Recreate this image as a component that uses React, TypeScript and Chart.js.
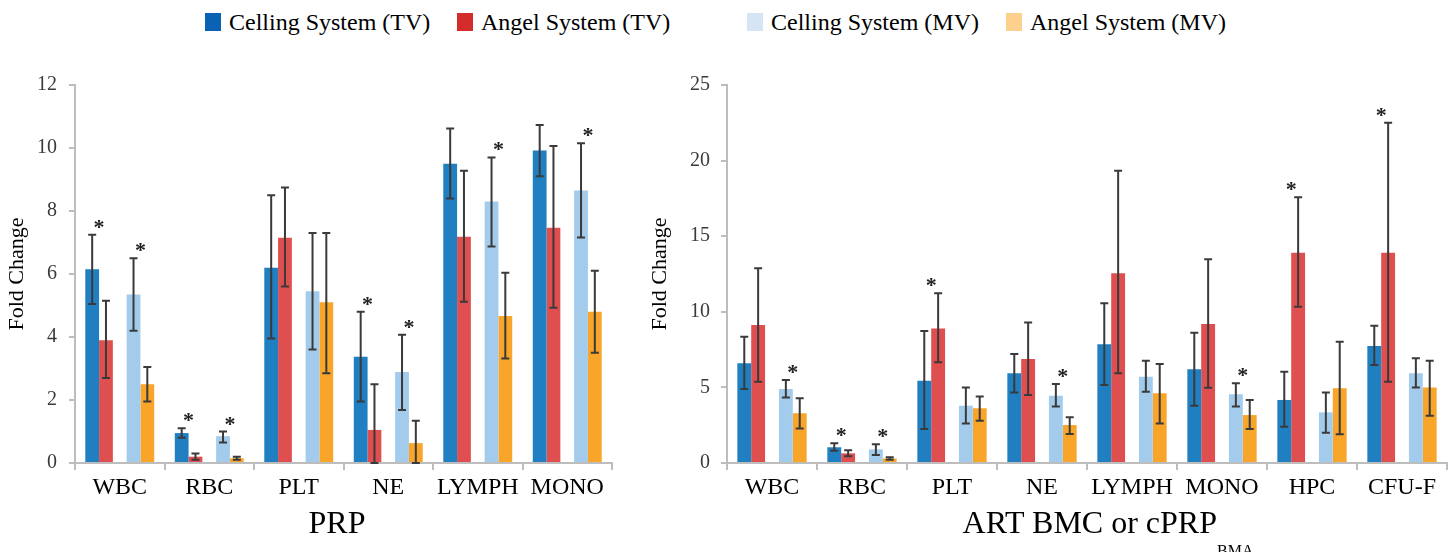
import React, { useEffect, useRef } from "react";
import { Chart, registerables } from "chart.js";
Chart.register(...registerables);

const seriesNames = ["Celling System (TV)", "Angel System (TV)", "Celling System (MV)", "Angel System (MV)"];
const barColors = ["#1f7fc0", "#e04f4f", "#a3cbeb", "#f8a52a"];
const legendColors = ["#0b62b4", "#d42b2b", "#d5e5f6", "#fdd08e"];

// PRP panel
const prpCategories = ["WBC", "RBC", "PLT", "NE", "LYMPH", "MONO"];
const prpCellingTV = [6.15, 0.95, 6.2, 3.37, 9.5, 9.92];
const prpCellingTVLow = [5.05, 0.8, 3.95, 1.95, 8.4, 9.1];
const prpCellingTVHigh = [7.25, 1.1, 8.5, 4.8, 10.62, 10.73];
const prpAngelTV = [3.9, 0.2, 7.15, 1.05, 7.18, 7.47];
const prpAngelTVLow = [2.7, 0.1, 5.6, 0, 5.12, 4.93];
const prpAngelTVHigh = [5.15, 0.3, 8.75, 2.5, 9.28, 10.06];
const prpCellingMV = [5.35, 0.85, 5.45, 2.89, 8.3, 8.65];
const prpCellingMVLow = [4.2, 0.65, 3.6, 1.68, 6.87, 7.16];
const prpCellingMVHigh = [6.5, 1.0, 7.3, 4.07, 9.7, 10.15];
const prpAngelMV = [2.5, 0.15, 5.1, 0.63, 4.67, 4.8];
const prpAngelMVLow = [1.95, 0.1, 2.85, 0, 3.32, 3.5];
const prpAngelMVHigh = [3.05, 0.2, 7.3, 1.34, 6.04, 6.1];
const prpSigTV = [true, true, false, true, false, false];
const prpSigMV = [true, true, false, true, true, true];
const prpTicks = { max: 12, step: 2 };

// ART BMC / cPRP_BMA panel
const artCategories = ["WBC", "RBC", "PLT", "NE", "LYMPH", "MONO", "HPC", "CFU-F"];
const artCellingTV = [6.59, 1.04, 5.44, 5.93, 7.85, 6.2, 4.17, 7.74];
const artCellingTVLow = [4.89, 0.81, 2.25, 4.67, 5.16, 3.79, 2.4, 6.48];
const artCellingTVHigh = [8.35, 1.3, 8.73, 7.21, 10.56, 8.62, 6.04, 9.08];
const artAngelTV = [9.13, 0.64, 8.9, 6.88, 12.55, 9.19, 13.91, 13.91];
const artAngelTVLow = [5.38, 0.45, 6.66, 4.5, 5.93, 4.98, 10.34, 5.38];
const artAngelTVHigh = [12.88, 0.85, 11.22, 9.3, 19.33, 13.47, 17.57, 22.51];
const artCellingMV = [4.89, 0.9, 3.79, 4.45, 5.71, 4.54, 3.35, 5.93];
const artCellingMVLow = [4.34, 0.53, 2.62, 3.73, 4.72, 3.73, 2.0, 5.0];
const artCellingMVHigh = [5.49, 1.24, 5.0, 5.22, 6.77, 5.27, 4.67, 6.92];
const artAngelMV = [3.29, 0.3, 3.62, 2.51, 4.61, 3.17, 4.94, 5.0];
const artAngelMVLow = [2.29, 0.22, 2.8, 1.92, 2.62, 2.25, 1.9, 3.13];
const artAngelMVHigh = [4.28, 0.38, 4.39, 3.02, 6.55, 4.17, 8.02, 6.77];
const artSigTV = [false, true, true, false, false, false, true, true];
const artSigMV = [true, true, false, true, false, true, false, false];
const artTicks = { max: 25, step: 5 };

const SERIF = "'Liberation Serif', 'Times New Roman', serif";
const AXIS_GRAY = "#bdbdbd";

const errorBarPlugin = {
  id: "errorBars",
  afterDatasetsDraw(chart: any) {
    const ctx = chart.ctx;
    const yScale = chart.scales.y;
    const area = chart.chartArea;
    ctx.save();
    ctx.strokeStyle = "#3a3a3a";
    ctx.lineWidth = 2;
    const ds = chart.data.datasets;
    ds.forEach((d: any, i: number) => {
      if (!d.errLow) return;
      const meta = chart.getDatasetMeta(i);
      meta.data.forEach((el: any, j: number) => {
        const hi = d.errHigh[j];
        const lo = d.errLow[j];
        if (hi == null) return;
        const x = el.x;
        const yh = yScale.getPixelForValue(hi);
        const yl = Math.min(yScale.getPixelForValue(lo), area.bottom);
        const cap = 4;
        ctx.beginPath();
        ctx.moveTo(x, yh);
        ctx.lineTo(x, yl);
        ctx.moveTo(x - cap, yh);
        ctx.lineTo(x + cap, yh);
        ctx.moveTo(x - cap, yl);
        ctx.lineTo(x + cap, yl);
        ctx.stroke();
      });
    });
    // significance asterisks, over the boundary of a pair of bars
    ctx.fillStyle = "#222";
    ctx.font = `bold 22px ${SERIF}`;
    ctx.textAlign = "center";
    ctx.textBaseline = "alphabetic";
    ds.forEach((d: any, i: number) => {
      if (!d.sig) return;
      const metaA = chart.getDatasetMeta(i);
      const metaB = chart.getDatasetMeta(i + 1);
      const other = ds[i + 1];
      d.sig.forEach((s: boolean, j: number) => {
        if (!s) return;
        const a = metaA.data[j];
        const x = a.x + a.width / 2;
        const top = Math.min(yScale.getPixelForValue(d.errHigh[j]), yScale.getPixelForValue(other.errHigh[j]));
        const cy = top - 13;
        ctx.fillText("*", x, cy + 12);
      });
    });
    ctx.restore();
  },
};

function buildDatasets(v: number[][], lo: number[][], hi: number[][], sigTV: boolean[], sigMV: boolean[]) {
  const mk = (k: number, extra: any = {}) => ({
    label: seriesNames[k],
    data: v[k],
    errLow: lo[k],
    errHigh: hi[k],
    backgroundColor: barColors[k],
    borderWidth: 0,
    ...extra,
  });
  return [
    mk(0, { sig: sigTV }),
    mk(1),
    { label: "", data: v[0].map(() => null), backgroundColor: "rgba(0,0,0,0)" },
    mk(2, { sig: sigMV }),
    mk(3),
  ];
}

function makeConfig(
  labels: string[],
  datasets: any[],
  ticks: { max: number; step: number },
  yWidth: number,
  padRight: number,
  titlePad: number,
  tickPad: number
) {
  return {
    type: "bar",
    data: { labels, datasets },
    plugins: [errorBarPlugin],
    options: {
      responsive: false,
      animation: false,
      layout: { padding: { left: 0, right: padRight, top: 45, bottom: 0 } },
      datasets: { bar: { categoryPercentage: 0.77, barPercentage: 1 } },
      plugins: { legend: { display: false }, tooltip: { enabled: false } },
      scales: {
        x: {
          grid: { drawOnChartArea: false, offset: true, color: AXIS_GRAY, lineWidth: 2, tickLength: 7 },
          border: { color: AXIS_GRAY, width: 2 },
          ticks: { font: { family: SERIF, size: 24 }, color: "#000", padding: 3, maxRotation: 0, autoSkip: false },
          afterFit: (s: any) => {
            s.height = 89;
          },
        },
        y: {
          min: 0,
          max: ticks.max,
          grid: { drawOnChartArea: false, color: AXIS_GRAY, lineWidth: 2, tickLength: 6 },
          border: { color: AXIS_GRAY, width: 2 },
          ticks: { stepSize: ticks.step, font: { family: SERIF, size: 20 }, color: "#3a3a3a", padding: tickPad },
          title: {
            display: true,
            text: "Fold Change",
            font: { family: SERIF, size: 22 },
            color: "#000",
            padding: { top: titlePad, bottom: 0 },
          },
          afterFit: (s: any) => {
            s.width = yWidth;
          },
        },
      },
    },
  };
}

function ChartCanvas(props: { config: any; left: number; width: number }) {
  const ref = useRef<HTMLCanvasElement>(null);
  useEffect(() => {
    if (!ref.current) return;
    const chart = new Chart(ref.current, props.config);
    return () => chart.destroy();
  }, []);
  return (
    <canvas
      ref={ref}
      width={props.width}
      height={512}
      style={{ position: "absolute", left: props.left, top: 40, width: props.width, height: 512 }}
    />
  );
}

const legendLefts = [205, 457, 747, 1006];

export default function App() {
  const prpConfig = makeConfig(
    prpCategories,
    buildDatasets(
      [prpCellingTV, prpAngelTV, prpCellingMV, prpAngelMV],
      [prpCellingTVLow, prpAngelTVLow, prpCellingMVLow, prpAngelMVLow],
      [prpCellingTVHigh, prpAngelTVHigh, prpCellingMVHigh, prpAngelMVHigh],
      prpSigTV,
      prpSigMV
    ),
    prpTicks,
    75,
    13,
    4,
    12
  );
  const artConfig = makeConfig(
    artCategories,
    buildDatasets(
      [artCellingTV, artAngelTV, artCellingMV, artAngelMV],
      [artCellingTVLow, artAngelTVLow, artCellingMVLow, artAngelMVLow],
      [artCellingTVHigh, artAngelTVHigh, artCellingMVHigh, artAngelMVHigh],
      artSigTV,
      artSigMV
    ),
    artTicks,
    92,
    8,
    12,
    11
  );
  return (
    <div
      style={{
        position: "fixed",
        left: 0,
        top: 0,
        width: 1455,
        height: 552,
        background: "#fff",
        overflow: "hidden",
        fontFamily: SERIF,
      }}
    >
      {seriesNames.map((name, k) => (
        <div key={name}>
          <div
            style={{
              position: "absolute",
              left: legendLefts[k],
              top: 13,
              width: 16,
              height: 18,
              background: legendColors[k],
            }}
          />
          <div
            style={{
              position: "absolute",
              left: legendLefts[k] + 24,
              top: 10,
              fontSize: 24,
              lineHeight: "24px",
              color: "#000",
              whiteSpace: "nowrap",
            }}
          >
            {name}
          </div>
        </div>
      ))}
      <ChartCanvas config={prpConfig} left={0} width={625} />
      <ChartCanvas config={artConfig} left={635} width={820} />
      <div
        style={{
          position: "absolute",
          left: 237,
          width: 200,
          top: 506,
          textAlign: "center",
          fontSize: 32,
          lineHeight: "32px",
          whiteSpace: "nowrap",
        }}
      >
        PRP
      </div>
      <div
        style={{
          position: "absolute",
          left: 908,
          width: 400,
          top: 506,
          textAlign: "center",
          fontSize: 32,
          lineHeight: "32px",
          whiteSpace: "nowrap",
        }}
      >
        ART BMC or cPRP
        <span style={{ fontSize: 16, position: "relative", top: 23 }}>BMA</span>
      </div>
    </div>
  );
}
